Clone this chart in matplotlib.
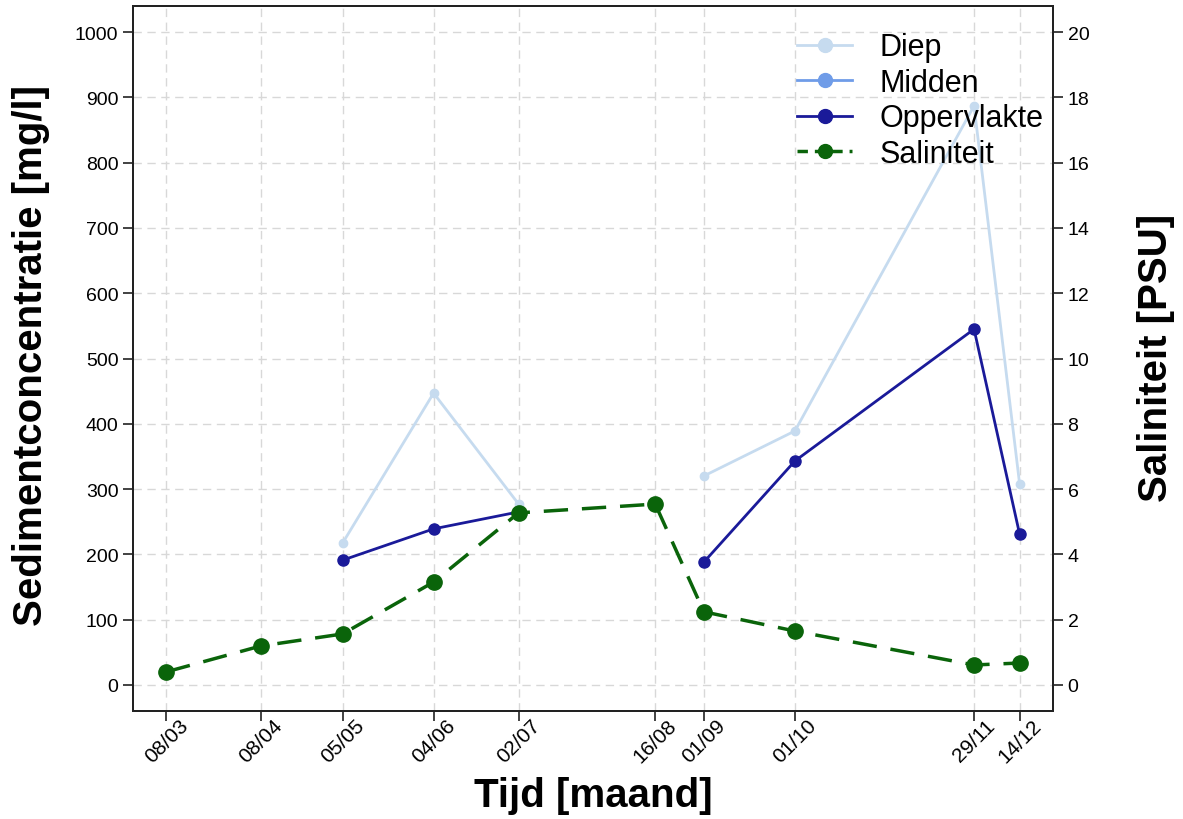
import datetime as dt
import numpy as np
import matplotlib
matplotlib.use("Agg")
import matplotlib.pyplot as plt
from matplotlib.lines import Line2D

plt.rcParams['font.family'] = ['Liberation Sans', 'DejaVu Sans']

# Sampling dates (day/month)
dates = ["08/03", "08/04", "05/05", "04/06", "02/07",
         "16/08", "01/09", "01/10", "29/11", "14/12"]

# Sediment concentration [mg/l]
diep = [np.nan, np.nan, 217, 447, 277, np.nan, 320, 389, 887, 308]
midden = [np.nan] * 10
oppervlakte = [np.nan, np.nan, 191, 239, 265, np.nan, 188, 343, 545, 231]
# Salinity [PSU]
saliniteit = [0.40, 1.19, 1.56, 3.15, 5.27, 5.54, 2.24, 1.65, 0.61, 0.67]

year = 2015
x = [dt.datetime(year, int(d.split("/")[1]), int(d.split("/")[0])) for d in dates]

fig = plt.figure(figsize=(11.83, 8.20), dpi=100)
ax = fig.add_axes([133 / 1183, 108 / 820, 920 / 1183, 705 / 820])
ax2 = ax.twinx()

c_diep = "#c6dbef"
c_midden = "#6f9ce8"
c_opp = "#1a1a99"
c_sal = "#0a640a"


def draw_series(axis, yvals, color, ms, marker="o"):
    """Plot a series, breaking the line where values are missing."""
    seg_x, seg_y = [], []
    for xi, yi in zip(x, yvals):
        if np.isnan(yi):
            if seg_x:
                axis.plot(seg_x, seg_y, color=color, lw=2, marker=marker, ms=ms, zorder=3)
            seg_x, seg_y = [], []
        else:
            seg_x.append(xi)
            seg_y.append(yi)
    if seg_x:
        axis.plot(seg_x, seg_y, color=color, lw=2, marker=marker, ms=ms, zorder=3)


draw_series(ax, diep, c_diep, 6)
draw_series(ax, midden, c_midden, 7)
draw_series(ax, oppervlakte, c_opp, 8)

ax2.plot(x, saliniteit, color=c_sal, lw=2.5, ls=(0, (7, 4)), marker="o", ms=11, zorder=3)

ax.set_ylim(-40, 1040)
ax2.set_ylim(-0.8, 20.8)
ax.set_xlim(dt.datetime(year, 2, 25), dt.datetime(year, 12, 25))

ax.set_yticks(np.arange(0, 1001, 100))
ax2.set_yticks(np.arange(0, 21, 2))
ax.set_xticks(x)
ax.set_xticklabels(dates, rotation=45, ha="center", fontsize=15)

ax.grid(True, color="#d8d8d8", ls=(0, (6, 4)), lw=1)
ax.set_axisbelow(True)

for a in (ax, ax2):
    for s in a.spines.values():
        s.set_linewidth(1.4)
        s.set_color("#222222")
    a.tick_params(labelsize=14, length=7, width=1.2, color="#222222", direction="out")
ax.tick_params(axis="x", labelsize=15, pad=-4)

ax.set_xlabel("Tijd [maand]", fontsize=29, fontweight="bold", va="bottom")
ax.xaxis.set_label_coords(0.5, (712 - 815) / 705)
ax.set_ylabel("Sedimentconcentratie [mg/l]", fontsize=29, fontweight="bold", va="center")
ax.yaxis.set_label_coords((31 - 133) / 920, (712 - 355) / 705)
ax2.set_ylabel("Saliniteit [PSU]", fontsize=29, fontweight="bold", va="center")
ax2.yaxis.set_label_coords((1156 - 133) / 920, (712 - 358) / 705)

handles = [
    Line2D([], [], color=c_diep, lw=2, marker="o", ms=10),
    Line2D([], [], color=c_midden, lw=2, marker="o", ms=10),
    Line2D([], [], color=c_opp, lw=2, marker="o", ms=10),
    Line2D([], [], color=c_sal, lw=2.5, ls=(0, (3, 2)), marker="o", ms=10),
]
leg = ax2.legend(handles, ["Diep", "Midden", "Oppervlakte", "Saliniteit"],
                 loc="upper right", bbox_to_anchor=(1.0 + 15 / 920, 1.0 - 2 / 705),
                 frameon=False, fontsize=22, handlelength=1.8, labelspacing=0.18,
                 borderaxespad=0.6, handletextpad=0.9, borderpad=0.2)
leg.set_zorder(10)

fig.savefig("out.png", dpi=100)
